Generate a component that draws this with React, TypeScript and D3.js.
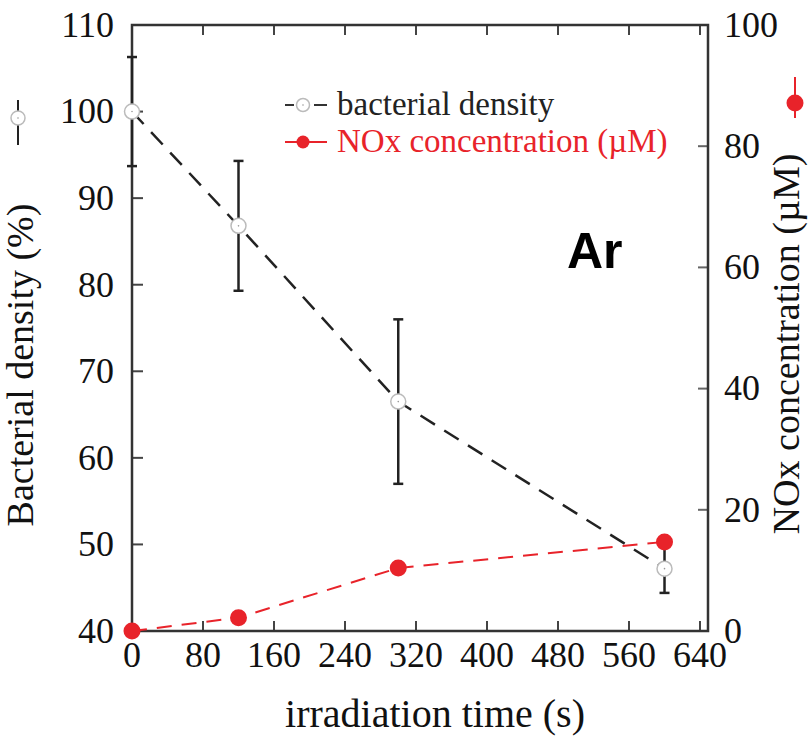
import React from "react";
import * as d3 from "d3";

const times = [0, 120, 300, 600];
const density = [100, 86.8, 66.5, 47.2];
const densityErr = [6.3, 7.5, 9.5, 2.8];
const nox = [0, 2.2, 10.4, 14.7];

const xTicks = [0, 80, 160, 240, 320, 400, 480, 560, 640];
const yLeftTicks = [40, 50, 60, 70, 80, 90, 100, 110];
const yRightTicks = [0, 20, 40, 60, 80, 100];

const W = 810;
const H = 739;
const L = 132, R = 708, T = 25, B = 631;

export default function App() {
  const x = d3.scaleLinear().domain([0, 649]).range([L, R]);
  const yL = d3.scaleLinear().domain([40, 110]).range([B, T]);
  const yR = d3.scaleLinear().domain([0, 100]).range([B, T]);

  const lineL = d3.line<number>().x((_, i) => x(times[i])).y((d) => yL(d));
  const lineR = d3.line<number>().x((_, i) => x(times[i])).y((d) => yR(d));

  const serif = "'Liberation Serif', 'Times New Roman', serif";
  const fs = 36;
  const red = "#e8232a";

  return (
    <svg width={W} height={H} style={{ position: "absolute", left: 0, top: 0, background: "#fff" }} fontFamily={serif}>
      <rect x={0} y={0} width={W} height={H} fill="#fff" />
      {/* inner ticks */}
      {xTicks.filter((t) => t > 0).map((t) => (
        <g key={"xt" + t}>
          <line x1={x(t)} x2={x(t)} y1={B} y2={B - 10} stroke="#444" strokeWidth={2} />
          <line x1={x(t)} x2={x(t)} y1={T} y2={T + 10} stroke="#444" strokeWidth={2} />
        </g>
      ))}
      {yLeftTicks.filter((t) => t > 40 && t < 110).map((t) => (
        <line key={"yl" + t} x1={L} x2={L + 11} y1={yL(t)} y2={yL(t)} stroke="#444" strokeWidth={2} />
      ))}
      {yRightTicks.filter((t) => t > 0 && t < 100).map((t) => (
        <line key={"yr" + t} x1={R} x2={R - 10} y1={yR(t)} y2={yR(t)} stroke="#666" strokeWidth={2} />
      ))}
      {/* frame */}
      <path d={`M${L},${T}H${R}V${B}H${L}Z`} fill="none" stroke="#333" strokeWidth={2.5} />

      {/* tick labels */}
      {xTicks.map((t) => (
        <text key={"xl" + t} x={x(t)} y={667} textAnchor="middle" fontSize={fs} fill="#111">{t}</text>
      ))}
      {yLeftTicks.map((t) => (
        <text key={"yll" + t} x={114} y={yL(t)} dy="0.33em" textAnchor="end" fontSize={fs} fill="#111">{t}</text>
      ))}
      {yRightTicks.map((t) => (
        <text key={"yrl" + t} x={724} y={yR(t)} dy="0.33em" textAnchor="start" fontSize={fs} fill="#111">{t}</text>
      ))}

      {/* axis titles */}
      <text x={435} y={727} textAnchor="middle" fontSize={40} fill="#111">irradiation time (s)</text>
      <text transform={`translate(33,${365}) rotate(-90)`} textAnchor="middle" fontSize={38} fill="#111">Bacterial density (%)</text>
      <g>
        <line x1={18} x2={18} y1={100} y2={145} stroke="#222" strokeWidth={2} />
        <circle cx={18} cy={118} r={7} fill="#fff" stroke="#bbb" strokeWidth={1.5} />
        <circle cx={18} cy={118} r={0.8} fill="#999" />
      </g>
      <text transform={`translate(799,${344}) rotate(-90)`} textAnchor="middle" fontSize={38} fill="#111">NOx concentration (µM)</text>
      <g>
        <line x1={795} x2={795} y1={77} y2={118} stroke={red} strokeWidth={2} />
        <circle cx={795} cy={103} r={8.5} fill={red} />
      </g>

      {/* data lines */}
      <path d={lineL(density) || ""} fill="none" stroke="#222" strokeWidth={2.5} strokeDasharray="17 11" />
      <path d={lineR(nox) || ""} fill="none" stroke={red} strokeWidth={2} strokeDasharray="15 10" />

      {/* error bars */}
      {density.map((d, i) => (
        <g key={"eb" + i}>
          <line x1={x(times[i])} x2={x(times[i])} y1={yL(d + densityErr[i])} y2={yL(d - densityErr[i])} stroke="#222" strokeWidth={2.5} />
          <line x1={x(times[i]) - 5} x2={x(times[i]) + 5} y1={yL(d + densityErr[i])} y2={yL(d + densityErr[i])} stroke="#222" strokeWidth={2.5} />
          <line x1={x(times[i]) - 5} x2={x(times[i]) + 5} y1={yL(d - densityErr[i])} y2={yL(d - densityErr[i])} stroke="#222" strokeWidth={2.5} />
        </g>
      ))}

      {/* markers */}
      {density.map((d, i) => (
        <g key={"od" + i}>
          <circle cx={x(times[i])} cy={yL(d)} r={7.5} fill="#fff" stroke="#bbb" strokeWidth={1.5} />
          <circle cx={x(times[i])} cy={yL(d)} r={0.8} fill="#999" />
        </g>
      ))}
      {nox.map((d, i) => (
        <circle key={"nx" + i} cx={x(times[i])} cy={yR(d)} r={8.5} fill={red} />
      ))}

      {/* legend */}
      <g>
        <line x1={285} x2={327} y1={105} y2={105} stroke="#333" strokeWidth={2} strokeDasharray="9 20 13" />
        <circle cx={303} cy={105} r={6.5} fill="#fff" stroke="#bbb" strokeWidth={1.5} />
        <circle cx={303} cy={105} r={0.8} fill="#999" />
        <text x={337} y={115} fontSize={33} fill="#222">bacterial density</text>
        <line x1={285} x2={327} y1={142} y2={142} stroke={red} strokeWidth={2} strokeDasharray="12 4 26" />
        <circle cx={303} cy={142} r={6.5} fill={red} />
        <text x={337} y={152} fontSize={33} fill={red}>NOx concentration (µM)</text>
      </g>

      <text x={567} y={268} fontFamily="'Liberation Sans', Arial, sans-serif" fontWeight="bold" fontSize={50} fill="#000">Ar</text>
    </svg>
  );
}
